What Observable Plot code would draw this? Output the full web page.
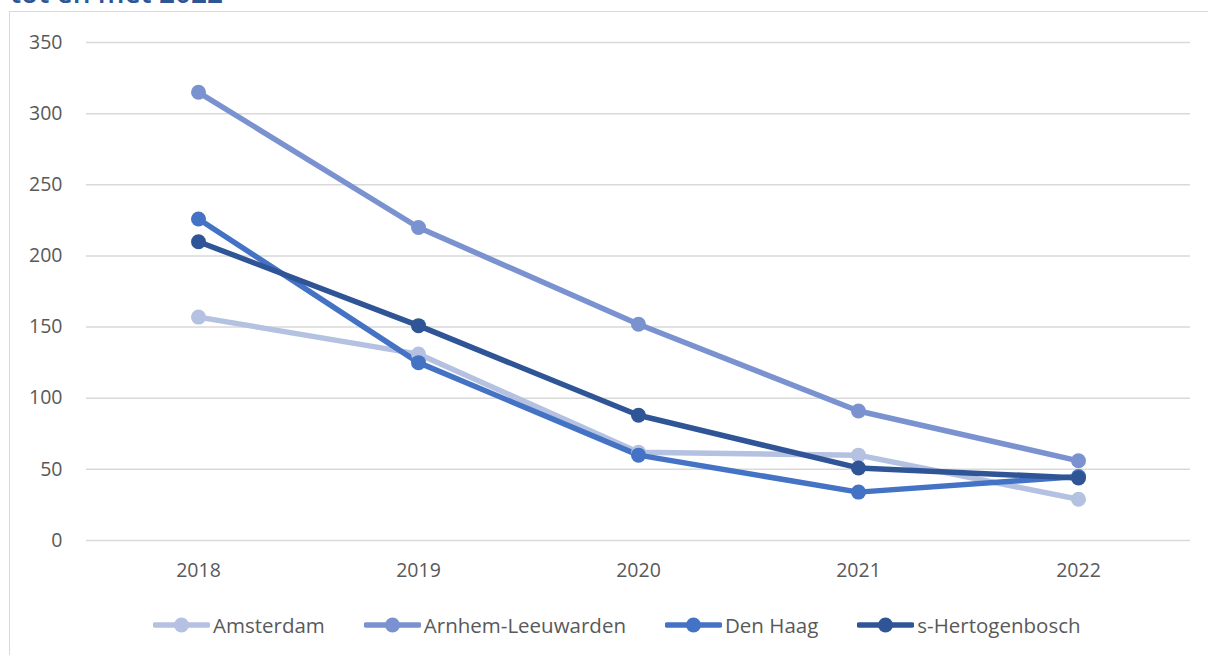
<!DOCTYPE html>
<html>
<head>
<meta charset="utf-8">
<script src="https://cdn.jsdelivr.net/npm/d3@7"></script>
<script src="https://cdn.jsdelivr.net/npm/@observablehq/plot@0.6"></script>
<style>
  html, body { margin: 0; padding: 0; background: #fff; }
  body { width: 1208px; height: 655px; overflow: hidden; position: relative; font-family: "Open Sans", sans-serif; }
  #title { position: absolute; left: 10px; top: -22px; font-size: 28px; font-weight: 600; color: #2f5597; line-height: 1; white-space: nowrap; }
  #frame { position: absolute; left: 9px; top: 11px; width: 1260px; height: 700px; border: 1.5px solid #d9d9d9; box-sizing: border-box; }
  #chart { position: absolute; left: 0; top: 0; }
  #legend { position: absolute; left: 153px; top: 611px; display: flex; align-items: center; font-size: 20.5px; color: #595959; white-space: nowrap; }
  .item { display: flex; align-items: center; margin-right: 39px; }
  .item svg { margin-right: 3px; }
</style>
</head>
<body>
<div id="title">tot en met 2022</div>
<div id="frame"></div>
<div id="chart"></div>
<div id="legend"></div>
<script>
const years = ["2018", "2019", "2020", "2021", "2022"];
const seriesNames = ["Amsterdam", "Arnhem-Leeuwarden", "Den Haag", "s-Hertogenbosch"];
const amsterdam = [157, 131, 62, 60, 29];
const arnhemLeeuwarden = [315, 220, 152, 91, 56];
const denHaag = [226, 125, 60, 34, 45];
const sHertogenbosch = [210, 151, 88, 51, 44];
const colors = ["#b4c1e1", "#7a92cf", "#4472c4", "#2f5597"];
const yTicks = [0, 50, 100, 150, 200, 250, 300, 350];

const seriesValues = [amsterdam, arnhemLeeuwarden, denHaag, sHertogenbosch];
const data = [];
seriesNames.forEach((name, i) => {
  years.forEach((year, j) => data.push({series: name, year, value: seriesValues[i][j]}));
});

const chart = Plot.plot({
  width: 1208,
  height: 600,
  marginLeft: 86,
  marginRight: 18,
  marginTop: 42,
  marginBottom: 60,
  style: {fontFamily: "Open Sans, sans-serif", fontSize: "19.5px", color: "#595959", background: "transparent", overflow: "visible"},
  x: {type: "point", domain: years, padding: 0.5, label: null},
  y: {domain: [0, 350], label: null},
  color: {domain: seriesNames, range: colors},
  marks: [
    Plot.ruleY(yTicks, {stroke: "#d9d9d9", strokeWidth: 1.5}),
    Plot.axisY({ticks: yTicks, tickSize: 0, tickPadding: 24, label: null, fill: "#595959"}),
    Plot.axisX({tickSize: 0, tickPadding: 23, label: null, fill: "#595959"}),
    Plot.lineY(data, {x: "year", y: "value", z: "series", stroke: "series", strokeWidth: 5.5, strokeLinejoin: "round", strokeLinecap: "round"}),
    Plot.dot(data, {x: "year", y: "value", fill: "series", r: 7.5})
  ]
});
document.getElementById("chart").appendChild(chart);

const legend = document.getElementById("legend");
seriesNames.forEach((name, i) => {
  const item = document.createElement("div");
  item.className = "item";
  item.innerHTML = `<svg width="57" height="18"><line x1="2" y1="9" x2="55" y2="9" stroke="${colors[i]}" stroke-width="5.5" stroke-linecap="round"/><circle cx="28.5" cy="9" r="7.5" fill="${colors[i]}"/></svg><span>${name}</span>`;
  legend.appendChild(item);
});
</script>
</body>
</html>
